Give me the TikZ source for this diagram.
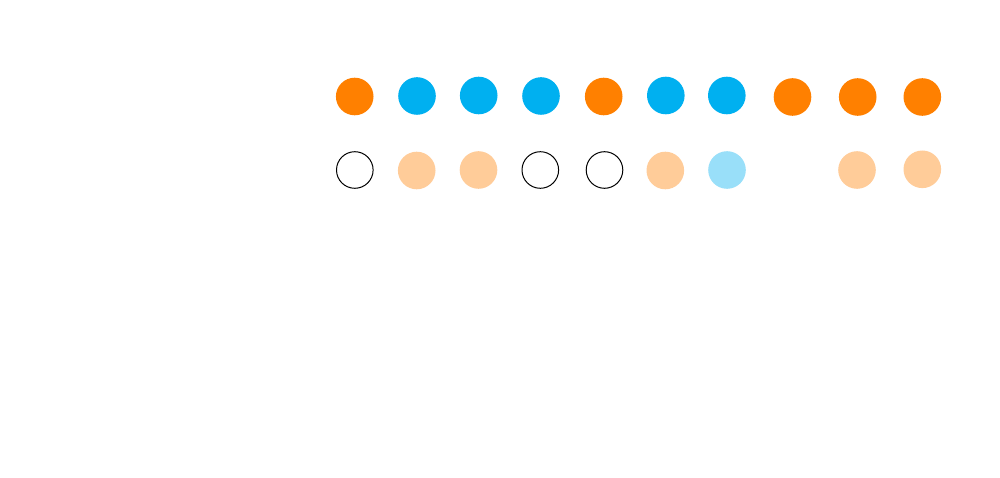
\documentclass[tikz,border=0pt]{standalone}
\definecolor{dotorange}{RGB}{255,128,0}
\definecolor{dotblue}{RGB}{0,176,240}
\definecolor{dotpeach}{RGB}{255,204,153}
\definecolor{dotlightblue}{RGB}{153,223,249}
\tikzset{
  dotbase/.style={circle, minimum size=37.6pt, inner sep=0pt, outer sep=0pt},
  orangedot/.style={dotbase, fill=dotorange},
  bluedot/.style={dotbase, fill=dotblue},
  peachdot/.style={dotbase, fill=dotpeach},
  lightbluedot/.style={dotbase, fill=dotlightblue},
  emptydot/.style={dotbase, minimum size=36.6pt, draw=black, line width=1pt, fill=white},
}
\begin{document}
\begin{tikzpicture}[x=1pt,y=-1pt]
\useasboundingbox[fill=white] (0,0) rectangle (1000,478);
% top row
\node[orangedot] (a1) at (354.7,96.5) {};
\node[bluedot] (a2) at (417,96) {};
\node[bluedot] (a3) at (478.7,95.5) {};
\node[bluedot] (a4) at (541,96) {};
\node[orangedot] (a5) at (603.7,96.5) {};
\node[bluedot] (a6) at (665.8,95.5) {};
\node[bluedot] (a7) at (726.8,95.5) {};
\node[orangedot] (a8) at (792.5,97) {};
\node[orangedot] (a9) at (857.7,97) {};
\node[orangedot] (a10) at (922.3,97) {};
% bottom row
\node[emptydot] (b1) at (354.8,170) {};
\node[peachdot] (b2) at (416.7,170.5) {};
\node[peachdot] (b3) at (478.5,170) {};
\node[emptydot] (b4) at (540.3,170) {};
\node[emptydot] (b5) at (604.5,170) {};
\node[peachdot] (b6) at (665.3,170.5) {};
\node[lightbluedot] (b7) at (727,170) {};
\node[peachdot] (b9) at (857,170) {};
\node[peachdot] (b10) at (922.3,169.3) {};
\end{tikzpicture}
\end{document}
